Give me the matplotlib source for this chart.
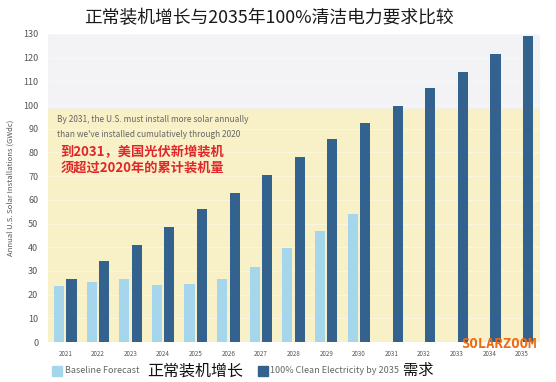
import matplotlib.pyplot as plt
import numpy as np
from matplotlib.patches import Rectangle

plt.rcParams['font.family'] = ['Noto Sans CJK SC', 'DejaVu Sans']

years = ['2021', '2022', '2023', '2024', '2025', '2026', '2027', '2028',
         '2029', '2030', '2031', '2032', '2033', '2034', '2035']
baseline = [23.5, 25.5, 26.5, 24, 24.5, 26.5, 31.5, 39.5, 47, 54]
clean = [26.5, 34, 41, 48.5, 56, 63, 70.5, 78, 85.5, 92.5,
         99.5, 107, 114, 121.5, 129]
band_top = 98.5

C_LIGHT = '#a5d6ec'
C_DARK = '#33628f'
C_YELLOW = '#f8f0c6'
C_GREY = '#f3f2f4'

fig = plt.figure(figsize=(5.56, 3.82), dpi=100)
ax = fig.add_axes([0.0863, 0.1047, 0.8847, 0.8063])

x = np.arange(len(years))
ax.set_facecolor(C_GREY)
ax.axhspan(0, band_top, color=C_YELLOW, zorder=0)
for v in range(10, 131, 10):
    ax.axhline(v, color='white', lw=0.6, alpha=0.45, zorder=0.5)

w = 0.31
ax.bar(x[:len(baseline)] - 0.19, baseline, w, color=C_LIGHT, zorder=2)
ax.bar(x + 0.19, clean, w, color=C_DARK, zorder=2)

ax.set_xlim(-0.53, 14.55)
ax.set_ylim(0, 130)
ax.set_yticks(range(0, 131, 10))
ax.set_xticks(x)
ax.set_xticklabels(years, fontsize=4.5, color='#555555')
ax.tick_params(axis='y', labelsize=6.5, colors='#555555', length=0, pad=7)
ax.tick_params(axis='x', length=0, pad=6)
for s in ax.spines.values():
    s.set_visible(False)

ax.set_ylabel('Annual U.S. Solar Installations (GWdc)', fontsize=5.5,
              color='#555555', labelpad=6)

ax.text(0.019, 0.724, 'By 2031, the U.S. must install more solar annually',
        transform=ax.transAxes, fontsize=6, color='#666666', va='center')
ax.text(0.019, 0.675, "than we've installed cumulatively through 2020",
        transform=ax.transAxes, fontsize=6, color='#666666', va='center')
ax.text(0.025, 0.617, '到2031，美国光伏新增装机',
        transform=ax.transAxes, fontsize=9.5, color='#e0262a',
        fontweight='bold', va='center')
ax.text(0.025, 0.565, '须超过2020年的累计装机量',
        transform=ax.transAxes, fontsize=9.5, color='#e0262a',
        fontweight='bold', va='center')

fig.text(0.483, 0.952, '正常装机增长与2035年100%清洁电力要求比较',
         ha='center', va='center', fontsize=12.8, color='#1a1a1a')

fig.text(0.965, 0.0995, 'SOLARZOOM', ha='right', va='center', fontsize=10,
         color='#ee6a10', family='DejaVu Sans Mono', fontweight='bold')

# legend row
fig.add_artist(Rectangle((0.0935, 0.0157), 0.018, 0.026, color=C_LIGHT,
                         transform=fig.transFigure))
fig.text(0.117, 0.029, 'Baseline Forecast', fontsize=6.5, color='#666666',
         va='center')
fig.text(0.264, 0.029, '正常装机增长', fontsize=11.5, color='#111111',
         va='center')
fig.add_artist(Rectangle((0.464, 0.0157), 0.018, 0.026, color=C_DARK,
                         transform=fig.transFigure))
fig.text(0.485, 0.029, '100% Clean Electricity by 2035', fontsize=6.5,
         color='#666666', va='center')
fig.text(0.725, 0.029, '需求', fontsize=11, color='#111111', va='center')

fig.savefig('out.png', dpi=100)
